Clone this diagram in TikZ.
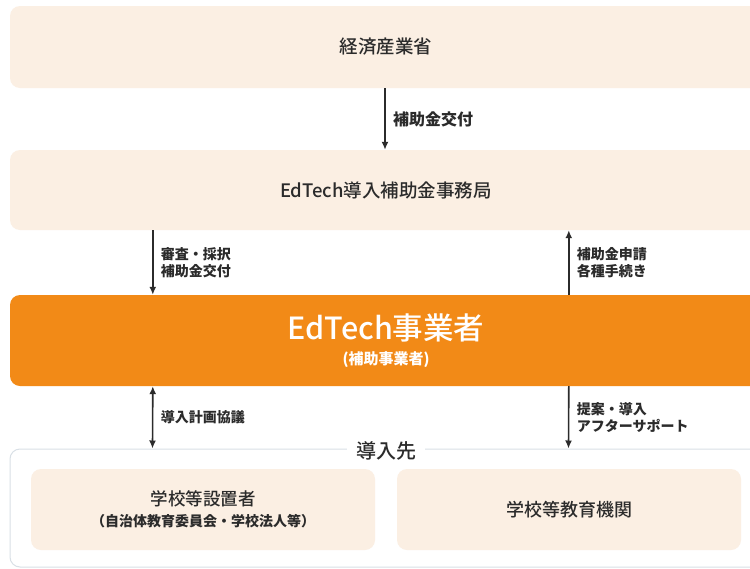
\documentclass[tikz,border=0pt]{standalone}
\usepackage{fontspec}
\setmainfont{Noto Sans CJK JP}
\newfontfamily\medfont{Noto Sans CJK JP Medium}
\usepackage{tikz}
\usetikzlibrary{arrows.meta,positioning}

\definecolor{beige}{HTML}{FBEFE3}
\definecolor{orng}{HTML}{F28A17}
\definecolor{frame}{HTML}{D9E0E6}
\definecolor{ink}{HTML}{2B2B2B}

\tikzset{
  panel/.style={fill=beige, rounded corners=10pt, minimum width=752pt, text=ink, font=\medfont\fontsize{18.5}{22}\selectfont},
  subpanel/.style={fill=beige, rounded corners=10pt, minimum width=344pt, minimum height=81pt, text=ink, align=center},
  arr/.style={draw=ink, line width=1.6pt, -{Latex[length=8pt,width=7pt]}},
  lbl/.style={right, xshift=4pt, text=ink, align=left, font=\bfseries\fontsize{14}{17}\selectfont}
}

\begin{document}
\begin{tikzpicture}[x=1pt,y=-1pt]
\useasboundingbox[fill=white] (0,0) rectangle (750,568);
\clip (0,0) rectangle (750,568);

\node[panel, minimum height=82pt] (meti) at (386,47) {経済産業省};
\node[panel, minimum height=80pt] (office) at (386,190) {EdTech導入補助金事務局};
\node[panel, fill=orng, minimum height=91pt, text=white, align=center] (vendor) at (386,340.5)
  {\fontsize{30.5}{33}\selectfont EdTech事業者\\[3pt]{\bfseries\fontsize{15}{18}\selectfont (補助事業者)}};

% destination frame
\node[draw=frame, line width=1pt, rounded corners=10pt, minimum width=752pt, minimum height=118pt] (dest) at (386,508) {};
\node[fill=white, text=ink, inner xsep=9pt, font=\medfont\fontsize{20}{22}\selectfont] (destlbl) at (386,451) {導入先};
\node[subpanel] (founder) at (203,509.5)
  {{\medfont\fontsize{17.5}{21}\selectfont 学校等設置者}\\[6pt]{\bfseries\fontsize{14}{17}\selectfont （自治体教育委員会・学校法人等）}};
\node[subpanel, font=\medfont\fontsize{18}{22}\selectfont] (school) at (569,509.5) {学校等教育機関};

% arrows
\draw[arr] ([xshift=-1pt]meti.south) -- node[lbl, font=\bfseries\fontsize{16}{19}\selectfont] {補助金交付} ([xshift=-1pt]office.north);
\draw[arr] ([xshift=143pt]office.south west) -- node[lbl] {審査・採択\\補助金交付} ([xshift=143pt]vendor.north west);
\draw[arr] ([xshift=559pt]vendor.north west) -- node[lbl] {補助金申請\\各種手続き} ([xshift=559pt]office.south west);
\draw[arr, {Latex[length=8pt,width=7pt]}-{Latex[length=8pt,width=7pt]}] ([xshift=143pt]vendor.south west) -- node[lbl] {導入計画協議} ([xshift=143pt]dest.north west);
\draw[arr] ([xshift=559pt]vendor.south west) -- node[lbl] {提案・導入\\アフターサポート} ([xshift=559pt]dest.north west);
\end{tikzpicture}
\end{document}
